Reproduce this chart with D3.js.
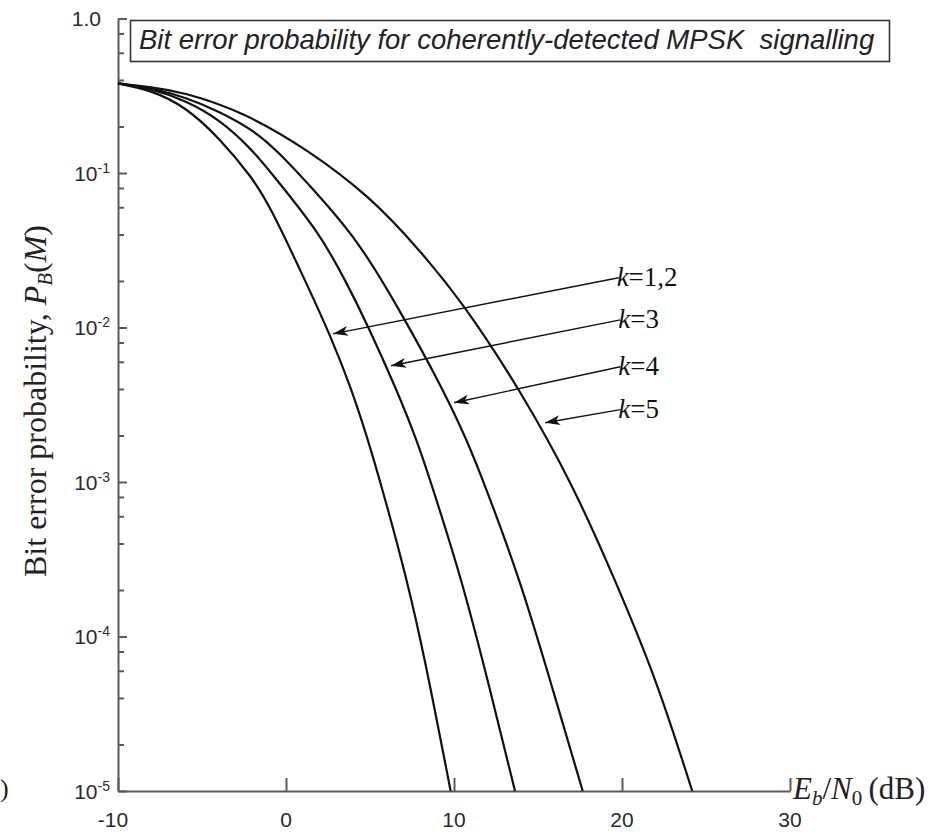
<!DOCTYPE html>
<html>
<head>
<meta charset="utf-8">
<script src="https://cdn.jsdelivr.net/npm/d3@7"></script>
<style>
  body { margin: 0; background: #fff; }
  svg { display: block; }
</style>
</head>
<body>
<script>
// values: [Eb/N0 in dB, bit error probability]
var curveK12 = [[-10, 0.38], [-8, 0.343], [-6, 0.269], [-4, 0.170], [-2, 0.0933],
  [-0.95, 0.0607], [1.03, 0.0214], [2.72, 0.00851], [3.91, 0.00395], [4.8, 0.00200],
  [5.7, 9.3e-4], [7.18, 2.40e-4], [8.3, 6.9e-5], [9.8, 1e-5]];
var curveK3 = [[-10, 0.38], [-8, 0.351], [-6, 0.295], [-4, 0.224], [-2, 0.141],
  [-0.95, 0.102], [2.02, 0.0408], [3.61, 0.0194], [4.8, 0.0107], [6.59, 0.00395],
  [7.78, 0.00188], [8.77, 8.9e-4], [10.46, 2.33e-4], [11.94, 5.6e-5], [13.63, 1e-5]];
var curveK4 = [[-10, 0.38], [-8, 0.355], [-6, 0.309], [-4, 0.251], [-2, 0.191],
  [-0.55, 0.141], [2.02, 0.0703], [4.4, 0.0352], [6.98, 0.0118], [9.36, 0.00395],
  [10.76, 0.00188], [11.85, 9.5e-4], [13.93, 2.33e-4], [15.71, 5.26e-5], [17.66, 1e-5]];
var curveK5 = [[-10, 0.38], [-8, 0.359], [-6.21, 0.336], [-2.54, 0.249], [1.33, 0.141],
  [5.0, 0.0703], [7.78, 0.0334], [10.55, 0.0144], [13.93, 0.00395], [17.1, 9.5e-4],
  [19.58, 2.33e-4], [22.06, 5.26e-5], [24.18, 1e-5]];
var curves = [curveK12, curveK3, curveK4, curveK5];

// annotation arrows: label, tail [dB, P], tip [dB, P]
var arrowLabels = ["1,2", "3", "4", "5"];
var arrowTails = [[19.8, 0.0210], [19.9, 0.0112], [19.9, 0.00557], [19.9, 0.00294]];
var arrowTips = [[2.8, 0.0091], [6.25, 0.00566], [10.0, 0.00326], [15.42, 0.00242]];

var xTicks = [-10, 0, 10, 20, 30];
var yMajor = [1, 1e-1, 1e-2, 1e-3, 1e-4, 1e-5];
var yExp = ["1.0", "-1", "-2", "-3", "-4", "-5"];
var yMinor = [];
[1, 1e-1, 1e-2, 1e-3, 1e-4].forEach(function (d) {
  [0.8, 0.6, 0.4, 0.2].forEach(function (m) { yMinor.push(d * m); });
});
var title = "Bit error probability for coherently-detected MPSK\u00a0 signalling";

var width = 929, height = 832;
var axisColor = "#5a5a5a";

var svg = d3.select("body")
  .append("svg")
    .attr("width", width)
    .attr("height", height);

var x = d3.scaleLinear().domain([-10, 30]).range([118, 790]);
var y = d3.scaleLog().domain([1e-5, 1]).range([791, 18.5]);

// y axis, ticks pointing into the plot
svg.append("g")
  .attr("transform", "translate(" + x(-10) + ",0)")
  .call(d3.axisRight(y).tickValues(yMinor).tickSize(6).tickSizeOuter(0).tickFormat(""))
  .call(function (g) { g.select(".domain").remove(); });
svg.append("g")
  .attr("transform", "translate(" + x(-10) + ",0)")
  .call(d3.axisRight(y).tickValues(yMajor).tickSize(9).tickSizeOuter(0).tickFormat(""));

// x axis, ticks pointing up
svg.append("g")
  .attr("transform", "translate(0," + y(1e-5) + ")")
  .call(d3.axisTop(x).tickValues(xTicks).tickSize(13).tickSizeOuter(0).tickFormat(""));

svg.selectAll(".domain, .tick line")
  .attr("stroke", axisColor)
  .attr("stroke-width", 2);

// y tick labels
var yLab = svg.selectAll(".ylab")
  .data(yMajor)
  .enter()
  .append("text")
    .attr("class", "ylab")
    .attr("x", function (d, i) { return i == 0 ? 101 : 110; })
    .attr("y", function (d) { return y(d) + 7.5; })
    .attr("text-anchor", "end")
    .style("font-family", "'Liberation Sans', Arial, sans-serif")
    .style("font-size", "21px")
    .attr("fill", "#2a2a2a");
yLab.each(function (d, i) {
  var t = d3.select(this);
  if (i == 0) { t.text(yExp[0]); return; }
  t.append("tspan").text("10");
  t.append("tspan").attr("dy", -8).style("font-size", "14px").text(yExp[i]);
});

// x tick labels
svg.selectAll(".xlab")
  .data(xTicks)
  .enter()
  .append("text")
    .attr("x", function (d) { return x(d) + (d < 0 ? -5 : 0); })
    .attr("y", 827)
    .attr("text-anchor", "middle")
    .style("font-family", "'Liberation Sans', Arial, sans-serif")
    .style("font-size", "21px")
    .attr("fill", "#2a2a2a")
    .text(function (d) { return d; });

// curves
var line = d3.line()
  .x(function (d) { return x(d[0]); })
  .y(function (d) { return y(d[1]); })
  .curve(d3.curveBasis);

svg.selectAll(".curve")
  .data(curves)
  .enter()
  .append("path")
    .attr("d", line)
    .attr("fill", "none")
    .attr("stroke", "#111")
    .attr("stroke-width", 2.2);

// arrows
svg.append("defs").append("marker")
    .attr("id", "head")
    .attr("viewBox", "0 0 15 10")
    .attr("refX", 15)
    .attr("refY", 5)
    .attr("markerWidth", 15)
    .attr("markerHeight", 10)
    .attr("markerUnits", "userSpaceOnUse")
    .attr("orient", "auto")
  .append("path")
    .attr("d", "M0,0L15,5L0,10L4,5Z")
    .attr("fill", "#111");

svg.selectAll(".arrow")
  .data(arrowTails)
  .enter()
  .append("line")
    .attr("x1", function (d) { return x(d[0]); })
    .attr("y1", function (d) { return y(d[1]); })
    .attr("x2", function (d, i) { return x(arrowTips[i][0]); })
    .attr("y2", function (d, i) { return y(arrowTips[i][1]); })
    .attr("stroke", "#111")
    .attr("stroke-width", 1.4)
    .attr("marker-end", "url(#head)");

var kLab = svg.selectAll(".klab")
  .data(arrowTails)
  .enter()
  .append("text")
    .attr("x", function (d) { return x(d[0]) - 2; })
    .attr("y", function (d) { return y(d[1]) + 8; })
    .style("font-family", "'Liberation Serif', 'Times New Roman', serif")
    .style("font-size", "27px")
    .attr("fill", "#111");
kLab.append("tspan").style("font-style", "italic").text("k");
kLab.append("tspan").text(function (d, i) { return "=" + arrowLabels[i]; });

// title box
var titleG = svg.append("g");
titleG.append("rect")
  .attr("x", 130.5)
  .attr("y", 20.5)
  .attr("width", 759)
  .attr("height", 41)
  .attr("fill", "#fff")
  .attr("stroke", "#333")
  .attr("stroke-width", 1.6);
titleG.append("text")
  .attr("x", 139)
  .attr("y", 49)
  .style("font-family", "'Liberation Sans', Arial, sans-serif")
  .style("font-style", "italic")
  .style("font-size", "27.5px")
  .attr("fill", "#222")
  .text(title);

// y axis title
var yTitle = svg.append("text")
  .attr("transform", "translate(46,401) rotate(-90)")
  .attr("text-anchor", "middle")
  .style("font-family", "'Liberation Serif', 'Times New Roman', serif")
  .style("font-size", "32px")
  .attr("fill", "#222");
yTitle.append("tspan").text("Bit error probability, ");
yTitle.append("tspan").style("font-style", "italic").text("P");
yTitle.append("tspan").style("font-style", "italic").style("font-size", "21px").attr("dy", 6).text("B");
yTitle.append("tspan").attr("dy", -6).text("(");
yTitle.append("tspan").style("font-style", "italic").text("M");
yTitle.append("tspan").text(")");

// x axis title
var xTitle = svg.append("text")
  .attr("x", 793)
  .attr("y", 799)
  .style("font-family", "'Liberation Serif', 'Times New Roman', serif")
  .style("font-size", "31px")
  .attr("fill", "#222");
xTitle.append("tspan").style("font-style", "italic").text("E");
xTitle.append("tspan").style("font-style", "italic").style("font-size", "21px").attr("dy", 6).text("b");
xTitle.append("tspan").attr("dy", -6).text("/");
xTitle.append("tspan").style("font-style", "italic").text("N");
xTitle.append("tspan").style("font-size", "21px").attr("dy", 6).text("0");
xTitle.append("tspan").attr("dy", -6).text("\u2009(dB)");

// cropped panel mark at the left edge
svg.append("text")
  .attr("x", 0)
  .attr("y", 797)
  .style("font-family", "'Liberation Serif', 'Times New Roman', serif")
  .style("font-size", "26px")
  .attr("fill", "#222")
  .text(")");
</script>
</body>
</html>
